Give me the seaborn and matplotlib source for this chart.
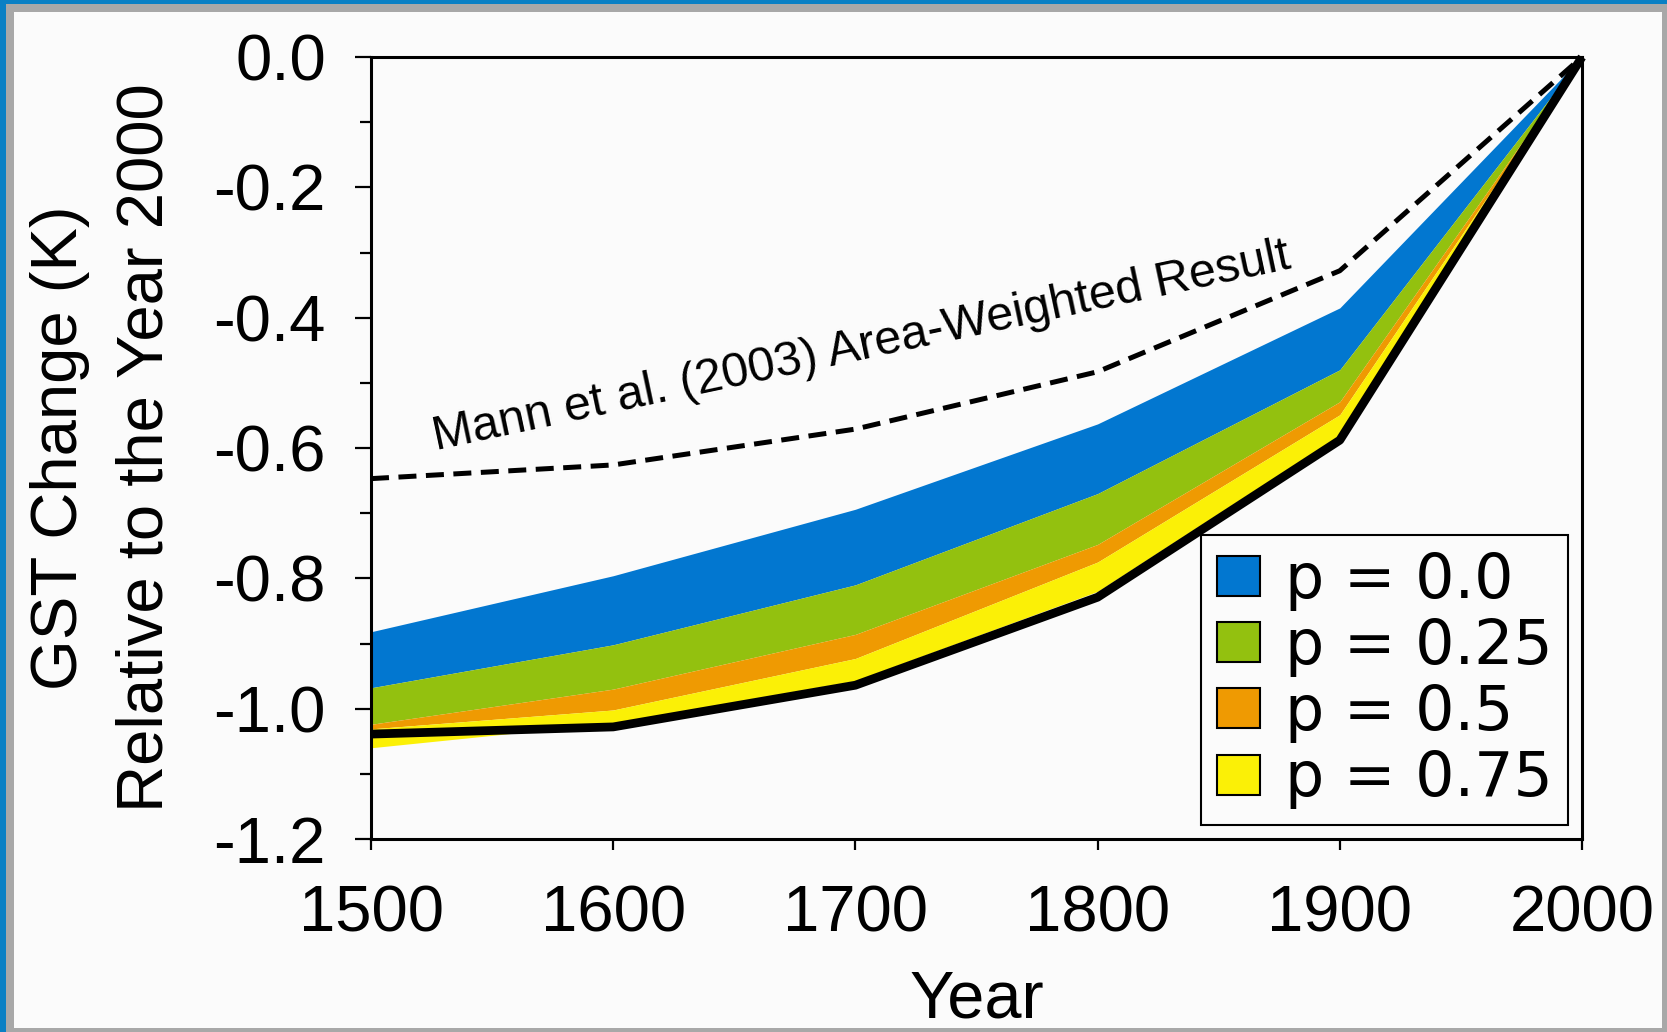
import numpy as np
import pandas as pd
import seaborn as sns
import matplotlib.pyplot as plt
from matplotlib.patches import Patch, Rectangle
from matplotlib.ticker import MultipleLocator

# dados
years = [1500, 1600, 1700, 1800, 1900, 2000]
mann = [-0.647, -0.626, -0.571, -0.483, -0.328, 0.0]
p00_top = [-0.882, -0.796, -0.694, -0.563, -0.385, 0.0]
p025_top = [-0.968, -0.902, -0.810, -0.670, -0.480, 0.0]
p05_top = [-1.024, -0.970, -0.886, -0.748, -0.529, 0.0]
p075_top = [-1.031, -1.002, -0.923, -0.775, -0.549, 0.0]
p075_bottom = [-1.060, -1.022, -0.957, -0.820, -0.580, 0.0]
black_line = [-1.039, -1.028, -0.964, -0.829, -0.588, 0.0]

labels = ['p = 0.0', 'p = 0.25', 'p = 0.5', 'p = 0.75']
colors = ['#0277d0', '#93c10f', '#ef9a02', '#fbf006']
yticks = [-1.2, -1.0, -0.8, -0.6, -0.4, -0.2, 0.0]
ytick_labels = ['-1.2', '-1.0', '-0.8', '-0.6', '-0.4', '-0.2', '0.0']

bg = '#fbfbfb'

sns.set_style("ticks")
plt.rcParams['font.family'] = ['Liberation Sans', 'DejaVu Sans']
plt.rcParams['axes.unicode_minus'] = False
plt.rcParams['text.color'] = 'black'
plt.rcParams['axes.labelcolor'] = 'black'
plt.rcParams['xtick.color'] = 'black'
plt.rcParams['ytick.color'] = 'black'

fig = plt.figure(figsize=(16.67, 10.32), dpi=100, facecolor='#0a80c4')
W, H = 1667, 1032
# moldura cinza e fundo claro
fig.add_artist(Rectangle((6 / W, 0), 1661 / W, 1028 / H, transform=fig.transFigure,
                         facecolor='#a8a8a8', edgecolor='none', zorder=-10))
fig.add_artist(Rectangle((14 / W, 4 / H), 1648 / W, 1016 / H, transform=fig.transFigure,
                         facecolor=bg, edgecolor='none', zorder=-9))

ax = fig.add_axes([371 / W, 1 - 839 / H, 1211 / W, 782 / H])
ax.set_facecolor(bg)

bounds = [p00_top, p025_top, p05_top, p075_top, p075_bottom]
for i in range(4):
    ax.fill_between(years, bounds[i], bounds[i + 1], color=colors[i], lw=0, zorder=2)

df = pd.DataFrame({'Year': years, 'mann': mann, 'black': black_line})
sns.lineplot(data=df, x='Year', y='mann', ax=ax, color='black', linewidth=3.6,
             linestyle=(0, (3.6, 1.9)), dash_capstyle='butt', zorder=3)
sns.lineplot(data=df, x='Year', y='black', ax=ax, color='black', linewidth=6.3,
             solid_capstyle='butt', zorder=4, clip_on=False)

ax.text(1527, -0.603, 'Mann et al. (2003) Area-Weighted Result', fontsize=34.8,
        rotation=12, rotation_mode='anchor', ha='left', va='baseline')

ax.set_xlim(1500, 2000)
ax.set_ylim(-1.2, 0.0)
ax.xaxis.set_major_locator(MultipleLocator(100))
ax.yaxis.set_minor_locator(MultipleLocator(0.1))
ax.set_yticks(yticks)
ax.set_yticklabels(ytick_labels)

for s in ax.spines.values():
    s.set_linewidth(2.2)
    s.set_color('black')
ax.tick_params(axis='y', which='major', direction='out', length=11.5, width=1.6,
               labelsize=47, pad=21)
ax.tick_params(axis='y', which='minor', direction='out', length=8, width=1.6)
ax.tick_params(axis='x', which='major', direction='out', length=8, width=1.6,
               labelsize=47, pad=25)

ax.set_xlabel('Year', fontsize=48, labelpad=18)
ax.set_ylabel('GST Change (K)\nRelative to the Year 2000', fontsize=47,
              labelpad=27, linespacing=1.55)

handles = [Patch(facecolor=c, edgecolor='black', lw=1.5) for c in colors]
leg = ax.legend(handles, labels, loc='lower right', prop={'family': 'DejaVu Sans', 'size': 44.5},
                frameon=True, fancybox=False, framealpha=1, facecolor=bg, edgecolor='black',
                handlelength=0.7, handleheight=0.62, handletextpad=0.4,
                labelspacing=0.10, borderpad=0.26, borderaxespad=0.22)
leg.get_frame().set_linewidth(1.5)
leg.set_zorder(5)

fig.savefig('out.png', dpi=100, facecolor=fig.get_facecolor())
